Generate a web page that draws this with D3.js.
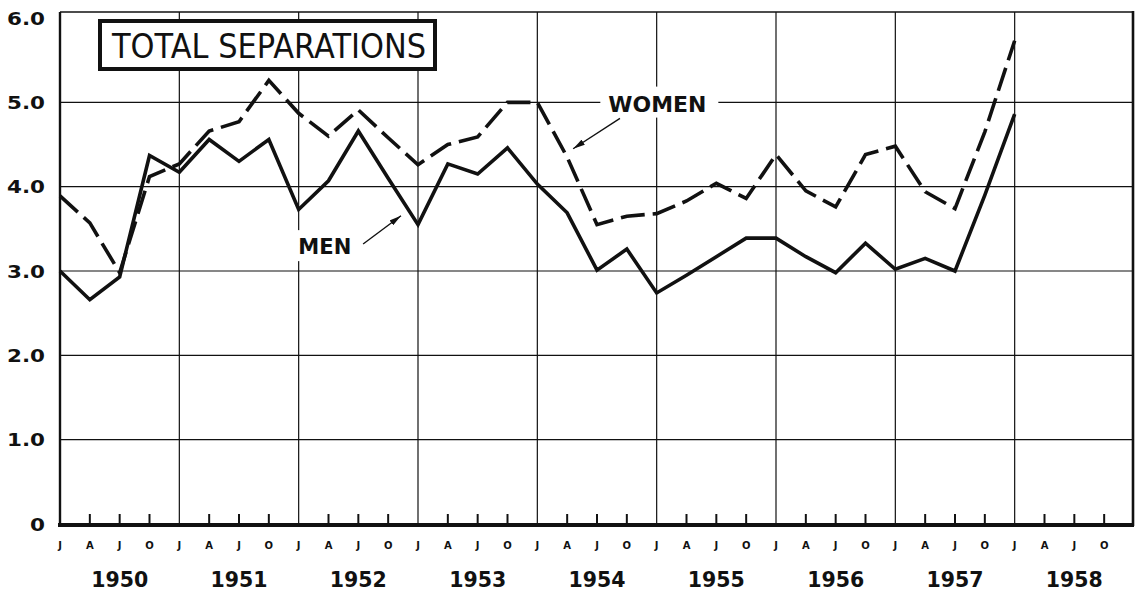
<!DOCTYPE html>
<html><head><meta charset="utf-8">
<script src="https://cdn.jsdelivr.net/npm/d3@7"></script>
<style>html,body{margin:0;padding:0;background:#fff;} svg{display:block;}</style>
</head><body>
<svg id="chart" width="1139" height="590"></svg>
<script>
// ---------- data ----------
const years = ["1950","1951","1952","1953","1954","1955","1956","1957","1958"];
const quarterNames = ["J","A","J","O"];
const yTickValues = [0, 1, 2, 3, 4, 5, 6];
const yTickLabels = ["0", "1.0", "2.0", "3.0", "4.0", "5.0", "6.0"];
// quarterly values, Jan 1950 .. Jan 1958
const men = [3.00, 2.66, 2.93, 4.37, 4.17, 4.56, 4.30, 4.56, 3.73, 4.07, 4.66, 4.10,
             3.55, 4.27, 4.15, 4.46, 4.03, 3.69, 3.01, 3.26, 2.74, 2.95, 3.17, 3.39,
             3.39, 3.17, 2.98, 3.33, 3.02, 3.15, 3.00, 3.90, 4.86];
const women = [3.89, 3.57, 2.98, 4.12, 4.27, 4.66, 4.77, 5.26, 4.87, 4.60, 4.91, 4.58,
               4.26, 4.50, 4.59, 5.00, 5.00, 4.35, 3.55, 3.65, 3.68, 3.83, 4.04, 3.86,
               4.38, 3.95, 3.76, 4.38, 4.48, 3.94, 3.74, 4.65, 5.73];
const titleText = "TOTAL SEPARATIONS";
const seriesLabels = ["MEN", "WOMEN"];

// ---------- scales ----------
const svg = d3.select("#chart");
const x = d3.scaleLinear().domain([0, 36]).range([60, 1134]);
const y = d3.scaleLinear().domain([0, 6]).range([524, 18]);
const frameTop = 12;
const FONT = "'DejaVu Sans', sans-serif";

// ---------- gridlines ----------
const grid = svg.append("g").attr("stroke", "#111").attr("stroke-width", 1.2);
grid.selectAll("line.h").data([1, 2, 3, 4, 5]).join("line")
  .attr("x1", x(0)).attr("x2", x(36))
  .attr("y1", d => y(d)).attr("y2", d => y(d));
grid.selectAll("line.v").data(d3.range(4, 36, 4)).join("line")
  .attr("x1", d => x(d)).attr("x2", d => x(d))
  .attr("y1", frameTop).attr("y2", y(0));

// ---------- frame ----------
const frame = svg.append("g").attr("stroke", "#111").attr("fill", "none");
frame.append("line").attr("x1", x(0)).attr("x2", x(36)).attr("y1", frameTop).attr("y2", frameTop).attr("stroke-width", 1.6);
frame.append("line").attr("x1", x(0)).attr("x2", x(0)).attr("y1", frameTop).attr("y2", y(0) + 2).attr("stroke-width", 2.4);
frame.append("line").attr("x1", x(36) - 1).attr("x2", x(36) - 1).attr("y1", frameTop - 1).attr("y2", y(0) + 2).attr("stroke-width", 2.6);
frame.append("line").attr("x1", x(0) - 2).attr("x2", x(36)).attr("y1", y(0) + 1).attr("y2", y(0) + 1).attr("stroke-width", 4);

// quarter ticks (inward)
svg.append("g").attr("stroke", "#111").attr("stroke-width", 2)
  .selectAll("line").data(d3.range(0, 36).filter(i => i % 4 !== 0)).join("line")
  .attr("x1", d => x(d)).attr("x2", d => x(d))
  .attr("y1", y(0)).attr("y2", y(0) - 10);

// ---------- axis labels ----------
svg.append("g").selectAll("text").data(d3.range(0, 36)).join("text")
  .attr("x", d => x(d)).attr("y", 548.5)
  .attr("text-anchor", "middle")
  .attr("font-family", FONT).attr("font-weight", "bold").attr("font-size", 10)
  .attr("fill", "#111")
  .text(d => quarterNames[d % 4]);

svg.append("g").selectAll("text").data(years).join("text")
  .attr("x", (d, i) => x(i * 4 + 2)).attr("y", 586.5)
  .attr("text-anchor", "middle")
  .attr("font-family", FONT).attr("font-weight", "bold").attr("font-size", 22)
  .attr("textLength", 57).attr("lengthAdjust", "spacingAndGlyphs")
  .attr("fill", "#111")
  .text(d => d);

svg.append("g").selectAll("text").data(yTickValues).join("text")
  .attr("x", 45).attr("y", d => y(d) + 6.5)
  .attr("text-anchor", "end")
  .attr("font-family", FONT).attr("font-weight", "bold").attr("font-size", 18)
  .attr("textLength", (d, i) => yTickLabels[i].length > 1 ? 38 : 15)
  .attr("lengthAdjust", "spacingAndGlyphs")
  .attr("fill", "#111")
  .text((d, i) => yTickLabels[i]);

// ---------- data lines ----------
const line = d3.line().x((d, i) => x(i)).y(d => y(d));
svg.append("path").datum(women)
  .attr("d", line).attr("fill", "none").attr("stroke", "#111")
  .attr("stroke-width", 3.6).attr("stroke-dasharray", "24,8")
  .attr("stroke-linejoin", "miter");
svg.append("path").datum(men)
  .attr("d", line).attr("fill", "none").attr("stroke", "#111")
  .attr("stroke-width", 3.6).attr("stroke-linejoin", "miter");

// ---------- title box ----------
svg.append("rect").attr("x", 100).attr("y", 21).attr("width", 335).attr("height", 48)
  .attr("fill", "#fff").attr("stroke", "#111").attr("stroke-width", 4);
svg.append("text").attr("x", 112).attr("y", 57.5)
  .attr("font-family", FONT).attr("font-size", 34)
  .attr("textLength", 314).attr("lengthAdjust", "spacingAndGlyphs")
  .attr("fill", "#111").text(titleText);

// ---------- annotations (positions in data units) ----------
svg.append("defs").append("marker")
  .attr("id", "arrow").attr("viewBox", "0 0 12 6")
  .attr("refX", 12).attr("refY", 3)
  .attr("markerWidth", 12).attr("markerHeight", 6)
  .attr("markerUnits", "userSpaceOnUse").attr("orient", "auto")
  .append("path").attr("d", "M0,0 L12,3 L0,6 Z").attr("fill", "#111");

const annotations = [
  { label: seriesLabels[0], tx: 7.99, tv: 3.2, len: 53, from: [10.16, 3.32], to: [11.43, 3.655], pad: [7, 8, 5, 6] },
  { label: seriesLabels[1], tx: 18.38, tv: 4.89, len: 98, from: [18.77, 4.81], to: [17.2, 4.45], pad: [8, 9, 12, 5] }
];
annotations.forEach(a => {
  const bg = svg.append("rect").attr("fill", "#fff");
  const t = svg.append("text").attr("x", x(a.tx)).attr("y", y(a.tv))
    .attr("font-family", FONT).attr("font-weight", "bold").attr("font-size", 22)
    .attr("textLength", a.len).attr("lengthAdjust", "spacingAndGlyphs")
    .attr("fill", "#111").text(a.label);
  const b = t.node().getBBox();
  bg.attr("x", b.x - a.pad[0]).attr("y", b.y + 4 - a.pad[1])
    .attr("width", b.width + a.pad[0] + a.pad[2]).attr("height", b.height - 4 + a.pad[1] + a.pad[3] - 4);
  svg.append("line")
    .attr("x1", x(a.from[0])).attr("y1", y(a.from[1]))
    .attr("x2", x(a.to[0])).attr("y2", y(a.to[1]))
    .attr("stroke", "#111").attr("stroke-width", 1.4)
    .attr("marker-end", "url(#arrow)");
});
</script>
</body></html>
